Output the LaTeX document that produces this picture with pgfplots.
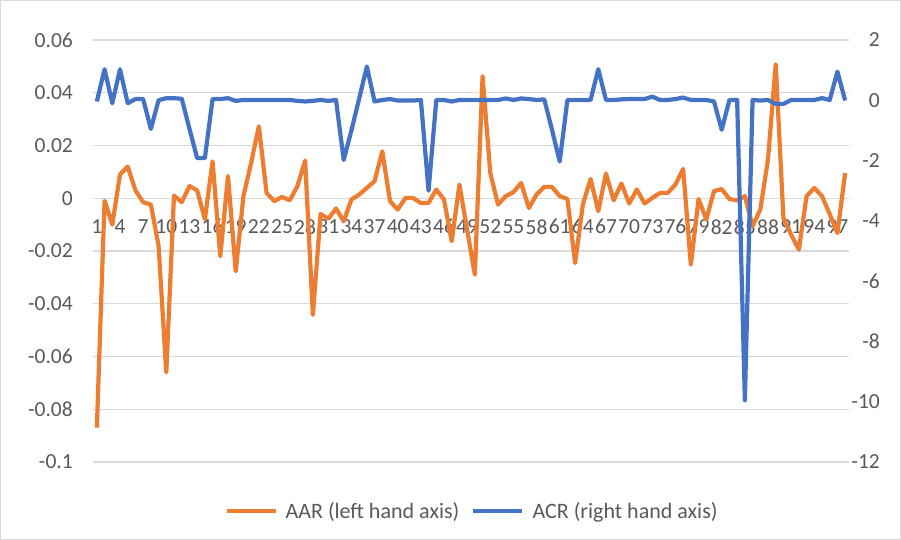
\documentclass[border=0pt]{standalone}
\usepackage{pgfplots}
\pgfplotsset{compat=1.18}
\usepackage{pgfplotstable}
\usepackage{fontspec}
\setmainfont{Carlito}
\definecolor{aar}{HTML}{ED7D31}
\definecolor{acr}{HTML}{4472C4}
\definecolor{gridc}{HTML}{D9D9D9}
\definecolor{txt}{HTML}{595959}

\pgfplotstableread{
x aar acr
1 -0.087 -0.04
2 -0.001 1.03
3 -0.010 -0.1
4 0.009 1.03
5 0.012 -0.1
6 0.003 0.04
7 -0.0015 0.04
8 -0.0024 -0.95
9 -0.018 0.0
10 -0.066 0.07
11 0.001 0.07
12 -0.0015 0.05
13 0.0046 -0.94
14 0.003 -1.92
15 -0.008 -1.92
16 0.014 0.04
17 -0.022 0.04
18 0.0084 0.07
19 -0.0277 -0.02
20 0.0008 0.01
21 0.0134 0.01
22 0.0273 0.01
23 0.002 0.01
24 -0.0011 0.01
25 0.0005 0.01
26 -0.0008 0.01
27 0.0046 -0.02
28 0.0143 -0.04
29 -0.0442 -0.02
30 -0.006 0.01
31 -0.0078 -0.02
32 -0.0039 0.01
33 -0.0087 -1.98
34 -0.0005 -1.0
35 0.0014 0.05
36 0.0039 1.12
37 0.0065 -0.04
38 0.0178 0.01
39 -0.0011 0.04
40 -0.0043 -0.01
41 0.0001 -0.01
42 0.0001 -0.01
43 -0.0018 0.01
44 -0.0018 -3.0
45 0.0033 0.01
46 -0.0005 0.01
47 -0.0163 -0.04
48 0.0052 0.01
49 -0.012 0.01
50 -0.029 0.01
51 0.0463 0.01
52 0.0096 0.01
53 -0.0024 0.01
54 0.0008 0.06
55 0.0023 0.01
56 0.0058 0.06
57 -0.0037 0.04
58 0.0014 0.01
59 0.0043 0.03
60 0.0043 -0.98
61 0.0008 -2.03
62 -0.0003 0.01
63 -0.0246 0.01
64 -0.0024 0.01
65 0.0073 0.01
66 -0.0049 1.03
67 0.0094 0.01
68 -0.0008 0.01
69 0.0056 0.03
70 -0.002 0.04
71 0.0033 0.04
72 -0.002 0.04
73 0.0001 0.12
74 0.002 0.01
75 0.002 0.01
76 0.0052 0.04
77 0.0111 0.09
78 -0.0252 0.01
79 -0.0003 0.01
80 -0.0081 0.01
81 0.0027 -0.04
82 0.0035 -0.98
83 -0.0003 0.01
84 -0.0008 0.01
85 0.0008 -9.95
86 -0.0106 0.01
87 -0.0043 -0.01
88 0.0147 0.01
89 0.0508 -0.12
90 -0.0075 -0.12
91 -0.0138 0.01
92 -0.0195 0.01
93 0.0008 0.01
94 0.0039 0.01
95 0.0008 0.07
96 -0.006 0.01
97 -0.0132 0.95
98 0.0096 -0.01
}\datatable

\begin{document}
\begin{tikzpicture}[x=1bp,y=1bp]
\path[use as bounding box] (0,0) rectangle (901,540);
\draw[gridc, line width=1bp] (0.5,0.5) rectangle (900.5,539.5);
\begin{axis}[
  at={(93bp,78bp)}, anchor=south west,
  width=756bp, height=422bp, scale only axis,
  xmin=0.5, xmax=98.5, ymin=-0.1, ymax=0.06,
  axis x line*=middle, axis y line*=left,
  axis line style={draw=none},
  major tick length=0pt,
  xtick={1,4,...,97},
  ytick={-0.1,-0.08,-0.06,-0.04,-0.02,0,0.02,0.04,0.06},
  yticklabels={-0.1,-0.08,-0.06,-0.04,-0.02,0,0.02,0.04,0.06},
  ymajorgrids, grid style={gridc, line width=1.3bp},
  /pgf/number format/assume math mode=true,
  tick label style={font=\fontsize{21.5bp}{25bp}\selectfont, text=txt},
  xticklabel style={anchor=north, inner sep=0pt, yshift=-21bp},
  yticklabel style={anchor=east, inner sep=0pt, xshift=-20bp},
]
\addplot[aar, line width=4.2bp, line join=round] table[x=x, y=aar] {\datatable};
\end{axis}
\begin{axis}[
  at={(93bp,78bp)}, anchor=south west,
  width=756bp, height=422bp, scale only axis,
  xmin=0.5, xmax=98.5, ymin=-12, ymax=2,
  axis y line*=right, axis x line=none,
  axis line style={draw=none},
  major tick length=0pt,
  ytick={-12,-10,-8,-6,-4,-2,0,2},
  yticklabels={-12,-10,-8,-6,-4,-2,0,2},
  tick label style={font=\fontsize{21.5bp}{25bp}\selectfont, text=txt},
  yticklabel style={anchor=east, inner sep=0pt, xshift=31bp},
  legend columns=2,
  legend style={at={(0.5,-0.116)}, anchor=center, draw=none, fill=none,
    inner sep=0pt, column sep=8bp, nodes={inner sep=0pt},
    font=\fontsize{22bp}{26bp}\selectfont, text=txt,
    /tikz/every even column/.append style={column sep=12bp}},
  legend image code/.code={\draw[#1, line width=4.2bp] (0bp,0bp) -- (49bp,0bp);},
]
\addlegendimage{aar, line width=4.2bp}
\addlegendentry{AAR (left hand axis)}
\addplot[acr, line width=4.2bp, line join=round] table[x=x, y=acr] {\datatable};
\addlegendentry{ACR (right hand axis)}
\end{axis}
\end{tikzpicture}
\end{document}
